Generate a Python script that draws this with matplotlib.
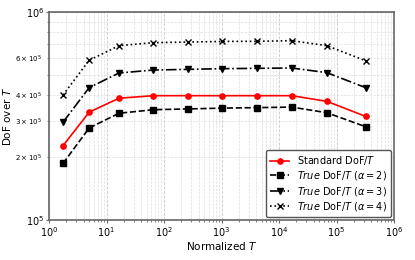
import numpy as np
import matplotlib
matplotlib.use("Agg")
import matplotlib.pyplot as plt

# normalized T (x) and DoF over T for each curve
norm_T = [1.75, 5.0, 16.5, 65, 260, 1030, 4150, 16600, 68000, 320000]
standard = [227500, 330000, 385000, 396000, 396000, 396000, 396000, 396000, 372000, 315000]
true_a2 = [187000, 277000, 326000, 339000, 342000, 345000, 347000, 349000, 328000, 281000]
true_a3 = [295000, 433000, 509000, 526000, 530000, 534000, 536000, 538000, 511000, 433000]
true_a4 = [399000, 586000, 689000, 712000, 717000, 722000, 723000, 728000, 689000, 583000]

labels = ["Standard DoF/$T$",
          r"$\mathit{True}$ DoF/$T$ ($\alpha=2$)",
          r"$\mathit{True}$ DoF/$T$ ($\alpha=3$)",
          r"$\mathit{True}$ DoF/$T$ ($\alpha=4$)"]

fig = plt.figure(figsize=(4.15, 2.6), dpi=100)
ax = fig.add_axes([49 / 415, 40 / 260, 345 / 415, 208 / 260])

ax.plot(norm_T, standard, color="red", ls="-", marker="o", ms=3.8, lw=1.2, label=labels[0])
ax.plot(norm_T, true_a2, color="black", ls="--", marker="s", ms=3.8, lw=1.2, label=labels[1])
ax.plot(norm_T, true_a3, color="black", ls="-.", marker="v", ms=3.8, lw=1.2, label=labels[2])
ax.plot(norm_T, true_a4, color="black", ls=":", marker="x", ms=3.8, lw=1.2, label=labels[3])

ax.set_xscale("log")
ax.set_yscale("log")
ax.set_xlim(1, 1e6)
ax.set_ylim(1e5, 1e6)

ax.grid(True, which="major", color="#c8c8c8", ls="--", lw=0.6)
ax.grid(True, which="minor", color="#dddddd", ls="--", lw=0.5)

for s in ax.spines.values():
    s.set_color("#666666")
    s.set_linewidth(1.2)

ax.tick_params(which="major", labelsize=7, length=2, color="#666666", pad=1.5)
ax.tick_params(axis="y", which="minor", labelsize=5, length=1.5, color="#666666")
ax.tick_params(axis="x", which="minor", length=1.5, color="#666666")

ax.set_xlabel("Normalized $T$", fontsize=7.5, labelpad=1)
ax.set_ylabel("DoF over $T$", fontsize=7.5, labelpad=2)

ax.legend(loc="lower right", fontsize=7, handlelength=2, borderpad=0.4,
          labelspacing=0.25, borderaxespad=0.3, edgecolor="#555555",
          fancybox=True, framealpha=1)

fig.savefig("out.png", dpi=100)
